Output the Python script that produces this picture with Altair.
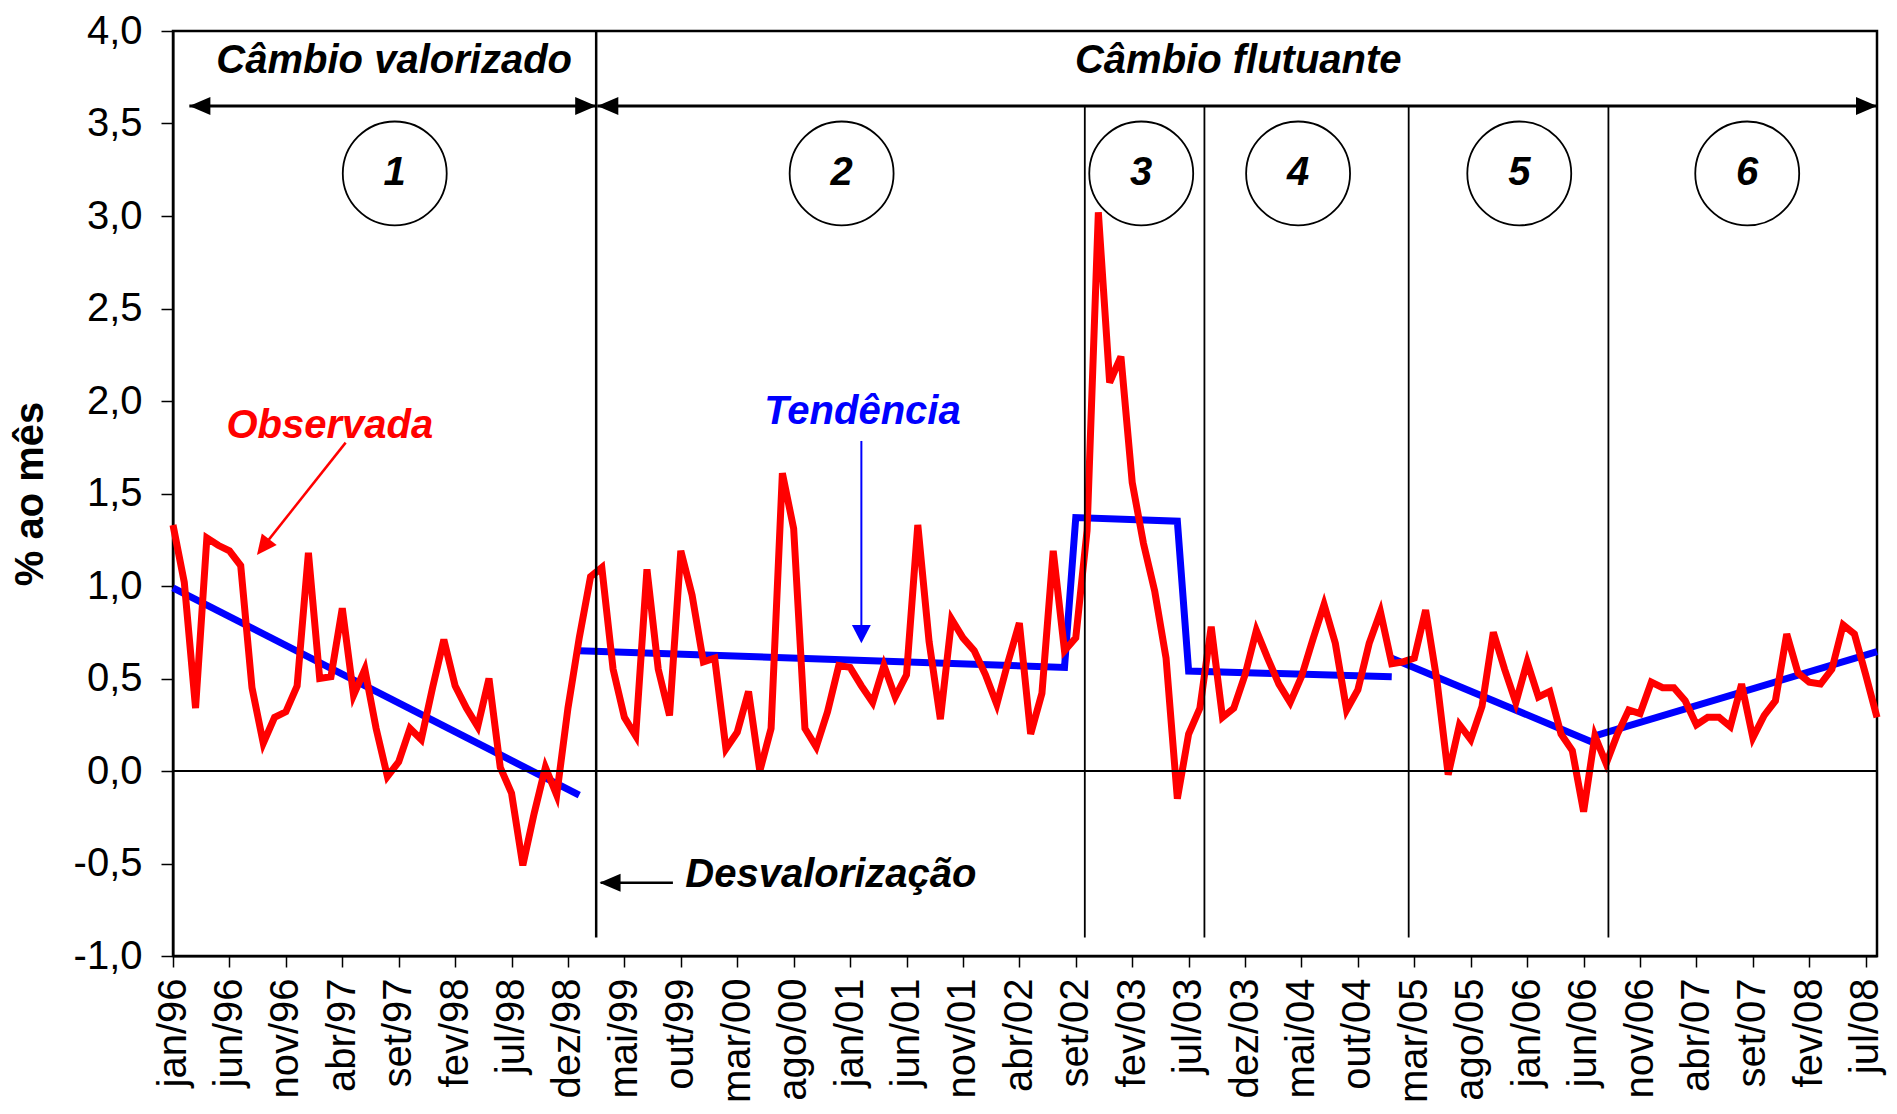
import altair as alt
import pandas as pd

FONT = "Liberation Sans"

# ---- observed monthly series (% ao mês), jan/96 .. ago/08 ----
obs_1996 = [1.33, 1.02, 0.34, 1.26, 1.22, 1.19, 1.11, 0.45, 0.15, 0.29, 0.32, 0.46]
obs_1997 = [1.18, 0.50, 0.51, 0.88, 0.41, 0.55, 0.23, -0.03, 0.05, 0.23, 0.17, 0.45]
obs_1998 = [0.71, 0.46, 0.34, 0.24, 0.50, 0.02, -0.12, -0.51, -0.23, 0.02, -0.13, 0.34]
obs_1999 = [0.72, 1.05, 1.10, 0.55, 0.29, 0.19, 1.09, 0.55, 0.30, 1.19, 0.95, 0.59]
obs_2000 = [0.61, 0.12, 0.21, 0.43, 0.00, 0.23, 1.61, 1.31, 0.23, 0.13, 0.32, 0.57]
obs_2001 = [0.56, 0.46, 0.37, 0.57, 0.40, 0.52, 1.33, 0.70, 0.28, 0.82, 0.72, 0.65]
obs_2002 = [0.52, 0.36, 0.59, 0.80, 0.20, 0.42, 1.19, 0.65, 0.72, 1.30, 3.02, 2.10]
obs_2003 = [2.24, 1.56, 1.23, 0.97, 0.61, -0.15, 0.20, 0.34, 0.78, 0.29, 0.34, 0.52]
obs_2004 = [0.76, 0.61, 0.47, 0.37, 0.51, 0.71, 0.90, 0.69, 0.33, 0.44, 0.69, 0.86]
obs_2005 = [0.58, 0.59, 0.61, 0.87, 0.49, -0.02, 0.25, 0.17, 0.35, 0.75, 0.55, 0.37]
obs_2006 = [0.59, 0.40, 0.43, 0.20, 0.11, -0.22, 0.19, 0.04, 0.20, 0.33, 0.31, 0.48]
obs_2007 = [0.45, 0.45, 0.38, 0.25, 0.29, 0.29, 0.24, 0.47, 0.18, 0.30, 0.38, 0.74]
obs_2008 = [0.53, 0.48, 0.47, 0.55, 0.79, 0.74, 0.52, 0.29]

# ---- trend segments (month index, value) ----
trend_seg1_month = [0, 36]
trend_seg1_value = [0.99, -0.13]
trend_seg2_month = [36, 79, 80, 89, 90, 108]
trend_seg2_value = [0.65, 0.56, 1.37, 1.35, 0.54, 0.51]
trend_seg3_month = [108, 126]
trend_seg3_value = [0.61, 0.15]
trend_seg4_month = [126, 151]
trend_seg4_value = [0.19, 0.645]

# ---- x tick labels (every 5 months) ----
tick_labels = ["jan/96", "jun/96", "nov/96", "abr/97", "set/97", "fev/98", "jul/98",
               "dez/98", "mai/99", "out/99", "mar/00", "ago/00", "jan/01", "jun/01",
               "nov/01", "abr/02", "set/02", "fev/03", "jul/03", "dez/03", "mai/04",
               "out/04", "mar/05", "ago/05", "jan/06", "jun/06", "nov/06", "abr/07",
               "set/07", "fev/08", "jul/08"]

# ---- regime separators ----
sep_month = [37.5, 80.8, 91.4, 109.5, 127.2]
sep_top = [4.0, 3.595, 3.595, 3.595, 3.595]
sep_bottom = [-0.9, -0.9, -0.9, -0.9, -0.9]
sep_width = [2.5, 1.8, 1.8, 1.8, 1.8]

# ---- regime circles ----
circle_month = [19.65, 59.25, 85.8, 99.7, 119.3, 139.5]
circle_value = [3.23] * 6
circle_label = ["1", "2", "3", "4", "5", "6"]

# ---- header texts ----
header_text = ["Câmbio valorizado", "Câmbio flutuante", "Desvalorização"]
header_month = [19.6, 94.4, 58.3]
header_value = [3.837, 3.837, -0.56]

# ---- series labels ----
label_text = ["Observada", "Tendência"]
label_month = [13.9, 61.1]
label_value = [1.864, 1.942]
label_color = ["#FF0000", "#0000FF"]

# ---- arrows (line segments) ----
arrow_x1 = [1.45, 37.6, 44.3, 15.3, 61.0]
arrow_x2 = [37.5, 151.0, 37.9, 7.7, 61.0]
arrow_y1 = [3.595, 3.595, -0.604, 1.775, 1.784]
arrow_y2 = [3.595, 3.595, -0.604, 1.19, 0.75]
arrow_color = ["black", "black", "black", "#FF0000", "#0000FF"]
arrow_width = [3, 3, 2.5, 2.5, 2]

# ---- arrow heads ----
LEFT = "M0,0L2,-0.86L2,0.86Z"
RIGHT = "M0,0L-2,-0.86L-2,0.86Z"
DOWN = "M0,0L-0.9,-1.75L0.9,-1.75Z"
UP = "M0,0L-0.9,1.9L0.9,1.9Z"
head_month = [1.45, 37.5, 37.6, 151.0, 37.8, 7.44, 61.0]
head_value = [3.595, 3.595, 3.595, 3.595, -0.604, 1.168, 0.69]
head_shape = [LEFT, RIGHT, LEFT, RIGHT, LEFT, UP, DOWN]
head_angle = [0, 0, 0, 0, 0, 218, 0]
head_color = ["black", "black", "black", "black", "black", "#FF0000", "#0000FF"]

# ================= build tables =================
observed = (obs_1996 + obs_1997 + obs_1998 + obs_1999 + obs_2000 + obs_2001 + obs_2002
            + obs_2003 + obs_2004 + obs_2005 + obs_2006 + obs_2007 + obs_2008)
obs_df = pd.DataFrame({"m": list(range(len(observed))), "v": observed})

trend_rows = []
for seg, (ms, vs) in enumerate([(trend_seg1_month, trend_seg1_value),
                                (trend_seg2_month, trend_seg2_value),
                                (trend_seg3_month, trend_seg3_value),
                                (trend_seg4_month, trend_seg4_value)]):
    for m, v in zip(ms, vs):
        trend_rows.append({"seg": seg, "m": m, "v": v})
trend_df = pd.DataFrame(trend_rows)

sep_df = pd.DataFrame({"m": sep_month, "top": sep_top, "bot": sep_bottom, "w": sep_width})
circ_df = pd.DataFrame({"m": circle_month, "v": circle_value, "t": circle_label})
head_txt_df = pd.DataFrame({"m": header_month, "v": header_value, "t": header_text})
lab_df = pd.DataFrame({"m": label_month, "v": label_value, "t": label_text, "c": label_color})
arr_df = pd.DataFrame({"x1": arrow_x1, "x2": arrow_x2, "y1": arrow_y1, "y2": arrow_y2,
                       "c": arrow_color, "w": arrow_width})
ah_df = pd.DataFrame({"m": head_month, "v": head_value, "s": head_shape,
                      "a": head_angle, "c": head_color})
zero_df = pd.DataFrame({"v": [0.0]})

# ================= scales / axes =================
x_scale = alt.Scale(domain=[0, 151], nice=False, zero=False)
y_scale = alt.Scale(domain=[-1, 4], nice=False, zero=False)

label_array = "[" + ",".join("'" + t + "'" for t in tick_labels) + "]"
x_axis = alt.Axis(
    values=list(range(0, 151, 5)),
    labelExpr=label_array + "[round(datum.value / 5)]",
    labelAngle=270, labelFont=FONT, labelFontSize=40, labelColor="black",
    labelPadding=11, labelFlush=False, labelOverlap=False,
    tickSize=11, tickColor="black", tickWidth=1.5,
    domainColor="black", domainWidth=2, grid=False, title=None,
)
y_axis = alt.Axis(
    values=[-1, -0.5, 0, 0.5, 1, 1.5, 2, 2.5, 3, 3.5, 4],
    labelExpr="(datum.value < 0 ? '-' : '') + replace(format(abs(datum.value), '.1f'), '.', ',')",
    labelFont=FONT, labelFontSize=40, labelColor="black", labelPadding=19,
    labelFlush=False, labelOverlap=False,
    tickSize=12, tickColor="black", tickWidth=1.5,
    domainColor="black", domainWidth=2, grid=False,
    title="% ao mês", titleFont=FONT, titleFontSize=40, titleFontWeight="bold",
    titleColor="black", titlePadding=23,
)


def X(f):
    return alt.X(f, type="quantitative", scale=x_scale, axis=x_axis)


def Y(f):
    return alt.Y(f, type="quantitative", scale=y_scale, axis=y_axis)


trend = alt.Chart(trend_df).mark_line(color="#0000FF", strokeWidth=7).encode(
    x=X("m"), y=Y("v"), detail="seg:N", order="m:Q")

obs = alt.Chart(obs_df).mark_line(color="#FF0000", strokeWidth=7).encode(
    x=X("m"), y=Y("v"))

zero = alt.Chart(zero_df).mark_rule(color="black", strokeWidth=2).encode(y=Y("v"))

seps = alt.Chart(sep_df).mark_rule(color="black").encode(
    x=X("m"), y=Y("top"), y2="bot",
    strokeWidth=alt.StrokeWidth("w:Q", scale=None))

arrows = alt.Chart(arr_df).mark_rule().encode(
    x=X("x1"), x2="x2", y=Y("y1"), y2="y2",
    color=alt.Color("c:N", scale=None),
    strokeWidth=alt.StrokeWidth("w:Q", scale=None))

heads = alt.Chart(ah_df).mark_point(filled=True, opacity=1, size=441, strokeWidth=0).encode(
    x=X("m"), y=Y("v"),
    shape=alt.Shape("s:N", scale=None),
    angle=alt.Angle("a:Q", scale=None),
    color=alt.Color("c:N", scale=None))

circles = alt.Chart(circ_df).mark_point(
    shape="circle", filled=False, size=10800, color="black", strokeWidth=1.8, opacity=1
).encode(x=X("m"), y=Y("v"))

circle_txt = alt.Chart(circ_df).mark_text(
    font=FONT, fontSize=40, fontWeight="bold", fontStyle="italic", color="black",
    align="center", baseline="middle"
).encode(x=X("m"), y=Y("v"), text="t:N")

header = alt.Chart(head_txt_df).mark_text(
    font=FONT, fontSize=40, fontWeight="bold", fontStyle="italic", color="black",
    align="center", baseline="middle"
).encode(x=X("m"), y=Y("v"), text="t:N")

labels = alt.Chart(lab_df).mark_text(
    font=FONT, fontSize=40, fontWeight="bold", fontStyle="italic",
    align="center", baseline="middle"
).encode(x=X("m"), y=Y("v"), text="t:N", color=alt.Color("c:N", scale=None))

chart = alt.layer(
    trend, obs, zero, seps, arrows, heads, circles, circle_txt, header, labels
).properties(
    width=1704, height=925,
    autosize=alt.AutoSizeParams(type="none"),
    padding={"left": 165, "top": 23, "right": 12, "bottom": 150},
    background="white",
).configure_view(stroke="black", strokeWidth=2.5)

chart.save("out.html", embed_options={"renderer": "svg", "actions": False})
